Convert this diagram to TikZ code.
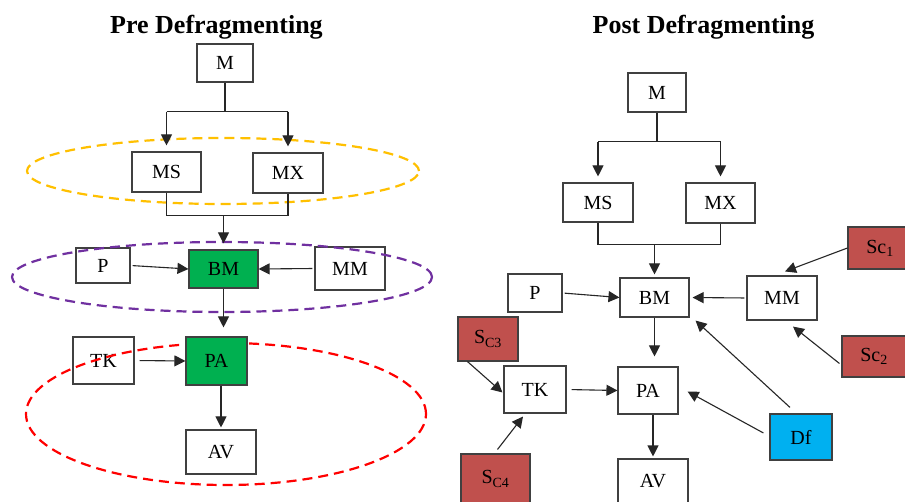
\documentclass[tikz,border=0pt]{standalone}
\usepackage{fontspec}
\setmainfont{Liberation Serif}
\usetikzlibrary{arrows.meta,calc}
\definecolor{boxgreen}{HTML}{00B050}
\definecolor{boxred}{HTML}{C0504D}
\definecolor{boxcyan}{HTML}{00B0F0}
\definecolor{ellyellow}{HTML}{FFC000}
\definecolor{ellpurple}{HTML}{7030A0}
\definecolor{ellred}{HTML}{FF0000}
\definecolor{edgegray}{HTML}{404040}
\begin{document}
\begin{tikzpicture}[x=1pt,y=-1pt,
  box/.style={draw=edgegray,line width=1.1pt,inner sep=0pt,font=\fontsize{20}{23}\selectfont},
  greenbox/.style={box,fill=boxgreen},
  redbox/.style={box,fill=boxred},
  cyanbox/.style={box,fill=boxcyan},
  title/.style={font=\fontsize{26}{29}\selectfont\bfseries,anchor=base},
  wire/.style={draw=black!85,line width=1.1pt},
  arr/.style={wire,-{Triangle[length=11pt,width=11pt]}},
  dashell/.style={line width=2.2pt,dash pattern=on 10pt off 6pt}
]
\useasboundingbox (0,0) rectangle (905,502);
\clip (0,0) rectangle (905,502);
\fill[white] (0,0) rectangle (905,502);

% ---------- titles ----------
\node[title] (t1) at (216.5,34) {Pre Defragmenting};
\node[title] (t2) at (703.5,34) {Post Defragmenting};

% ---------- left: pre ----------
\node[box,minimum width=56pt,minimum height=38pt] (LM) at (225,63) {M};
\node[box,minimum width=69pt,minimum height=40pt] (LMS) at (166.5,172) {MS};
\node[box,minimum width=70pt,minimum height=40pt] (LMX) at (288,173) {MX};
\node[box,minimum width=54pt,minimum height=35pt] (LP) at (103,265.5) {P};
\node[box,minimum width=70pt,minimum height=43pt] (LMM) at (350,268.5) {MM};
\node[box,minimum width=61pt,minimum height=47pt] (LTK) at (103.5,360.5) {TK};
\node[box,minimum width=70pt,minimum height=44pt] (LAV) at (221,452) {AV};

% ellipses
\draw[dashell,ellyellow] (223,171) ellipse [x radius=196pt,y radius=33pt];
\draw[dashell,ellpurple] (222,277) ellipse [x radius=210pt,y radius=35pt];
\draw[dashell,ellred] (226,414) ellipse [x radius=200pt,y radius=71pt];

\node[greenbox,minimum width=69pt,minimum height=38pt] (LBM) at (223.5,269) {BM};
\node[greenbox,minimum width=61pt,minimum height=48pt] (LPA) at (216.5,361) {PA};

% connectors left
\draw[wire] (LM.south) -- ++(0,29) coordinate (Lmj);
\draw[wire] (Lmj -| LMS.north) -- (Lmj -| LMX.north);
\draw[arr,shorten >=6pt] (Lmj -| LMS.north) -- (LMS.north);
\draw[arr,shorten >=6pt] (Lmj -| LMX.north) -- (LMX.north);
\coordinate (Lsj) at ($(LMS.south)+(0,23)$);
\draw[wire] (LMS.south) -- (Lsj) -- (Lsj -| LMX.south) -- (LMX.south);
\draw[arr,shorten >=6pt] (Lsj -| LBM.north) -- (LBM.north);
\draw[arr,shorten <=2pt] (LP.east) -- (LBM.west);
\draw[arr,shorten <=2pt] (LMM.west) -- (LBM.east);
\draw[arr,shorten >=9pt] (LBM.south) -- (LBM.south |- LPA.north);
\draw[arr,shorten <=5pt] (LTK.east) -- (LPA.west);
\draw[arr,shorten >=2pt] (LPA.south -| LAV.north) -- (LAV.north);

% ---------- right: post ----------
\node[box,minimum width=58pt,minimum height=39pt] (RM) at (657,92.5) {M};
\node[box,minimum width=70pt,minimum height=39pt] (RMS) at (598,202.5) {MS};
\node[box,minimum width=69pt,minimum height=40pt] (RMX) at (720.5,203) {MX};
\node[box,minimum width=54pt,minimum height=38pt] (RP) at (535,293) {P};
\node[box,minimum width=69pt,minimum height=39pt] (RBM) at (654.5,297.5) {BM};
\node[box,minimum width=70pt,minimum height=44pt] (RMM) at (782,298) {MM};
\node[redbox,minimum width=64pt,minimum height=42pt] (Sc1) at (880,248) {Sc\textsubscript{1}};
\node[redbox,minimum width=64pt,minimum height=41pt] (Sc2) at (874,356.5) {Sc\textsubscript{2}};
\node[redbox,minimum width=60pt,minimum height=44pt] (Sc3) at (488,339) {S\textsubscript{C3}};
\node[box,minimum width=62pt,minimum height=47pt] (RTK) at (535,389.5) {TK};
\node[box,minimum width=60pt,minimum height=47pt] (RPA) at (648,390.5) {PA};
\node[redbox,minimum width=69pt,minimum height=50pt] (Sc4) at (495.5,479) {S\textsubscript{C4}};
\node[box,minimum width=70pt,minimum height=44pt] (RAV) at (653,481) {AV};
\node[cyanbox,minimum width=62pt,minimum height=46pt] (Df) at (801,437) {Df};

% connectors right
\draw[wire] (RM.south) -- ++(0,29) coordinate (Rmj);
\draw[wire] (Rmj -| RMS.north) -- (Rmj -| RMX.north);
\draw[arr,shorten >=6pt] (Rmj -| RMS.north) -- (RMS.north);
\draw[arr,shorten >=6pt] (Rmj -| RMX.north) -- (RMX.north);
\coordinate (Rsj) at ($(RMS.south)+(0,22)$);
\draw[wire] (RMS.south) -- (Rsj) -- (Rsj -| RMX.south) -- (RMX.south);
\draw[arr,shorten >=3pt] (Rsj -| RBM.north) -- (RBM.north);
\draw[arr,shorten <=2pt] (RP.east) -- (RBM.west);
\draw[arr,shorten <=2pt,shorten >=3pt] (RMM.west) -- (RBM.east);
\draw[arr,shorten >=10pt] (RBM.south) -- (RBM.south |- RPA.north);
\draw[arr,shorten <=5pt] (RTK.east) -- (RPA.west);
\draw[arr,shorten >=2pt] (RPA.south -| RAV.north) -- (RAV.north);
\draw[arr] (Sc1.west) -- ($(RMM.north)+(3,-4)$);
\draw[arr] ($(Sc2.west)+(-2,7)$) -- ($(RMM.south)+(11,6)$);
\draw[arr] ($(Df.north)+(-11,-6)$) -- ($(RBM.south east)+(6,3)$);
\draw[arr] ($(Df.west)+(-6,-4)$) -- ($(RPA.east)+(9,1)$);
\draw[arr] ($(Sc3.south west)+(10,0)$) -- ($(RTK.west)+(-1,3)$);
\draw[arr] ($(Sc4.north)+(2,-4)$) -- ($(RTK.south)+(-12,3)$);
\end{tikzpicture}
\end{document}
